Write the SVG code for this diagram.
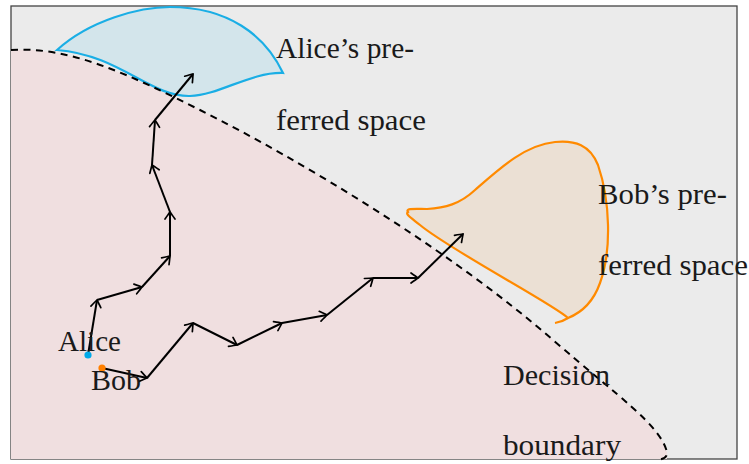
<svg xmlns="http://www.w3.org/2000/svg" width="749" height="464" viewBox="0 0 749 464">
<style>
.lbl{font-family:"Liberation Serif","DejaVu Serif",serif;font-size:29px;fill:#1a1a1a}
.arr{stroke:#000;stroke-width:2;fill:none;marker-end:url(#tip)}
</style>
<defs>
<marker id="tip" markerUnits="userSpaceOnUse" markerWidth="16" markerHeight="16" viewBox="-9 -8 11 16" refX="0" refY="0" orient="auto">
<path d="M-7,-5 Q-1.8,-1.4 0,0 Q-1.8,1.4 -7,5" fill="none" stroke="#000" stroke-width="1.7" stroke-linecap="round"/>
</marker>
</defs>
<rect x="11" y="6" width="726" height="453" fill="#ebebeb" stroke="#444" stroke-width="1.3"/>
<g id="decision-region">
<path d="M11,50 C70,46 130,75 200,110 C300,160 450,250 553,340 C620,398 660,425 667,452 L667,459 L11,459 Z" fill="#f0dfe0"/>
</g>
<g id="alice-space">
<path d="M57,50 C90,20 140,7 170,7 C228,7 265,35 283,73 C250,72 220,95 190,96 C150,97 120,55 57,50 Z" fill="#d3e5eb" stroke="#1aaee5" stroke-width="2.2"/>
</g>
<g id="bob-space">
<path d="M408,212 C405,208 415,209 427,209 C445,208 460,204 475,190 C500,168 525,145 555,142 C575,140 590,145 598,165 C610,200 612,250 600,283 C594,300 583,312 568,318 C555,305 450,250 420,225 C410,217 405,214 408,212 Z" fill="#ebe0d4" stroke="#ff8a00" stroke-width="2.2"/>
<path d="M568,318 Q562,322 555,323" fill="none" stroke="#ff8a00" stroke-width="2.2"/>
</g>
<g id="decision-boundary">
<path d="M11,50 C70,46 130,75 200,110 C300,160 450,250 553,340 C620,398 660,425 667,452 Q668,459 656,460" fill="none" stroke="#000" stroke-width="2" stroke-dasharray="7,5.5"/>
</g>
<g id="connectors">
<line class="arr" x1="88" y1="355" x2="97" y2="300"/>
<line class="arr" x1="97" y1="300" x2="142" y2="287"/>
<line class="arr" x1="142" y1="287" x2="170" y2="256"/>
<line class="arr" x1="170" y1="256" x2="170" y2="212"/>
<line class="arr" x1="170" y1="212" x2="152" y2="165"/>
<line class="arr" x1="152" y1="165" x2="155" y2="120"/>
<line class="arr" x1="155" y1="120" x2="193" y2="74"/>
<line class="arr" x1="102" y1="368" x2="147" y2="378"/>
<line class="arr" x1="147" y1="378" x2="193" y2="323"/>
<line class="arr" x1="193" y1="323" x2="237" y2="345"/>
<line class="arr" x1="237" y1="345" x2="282" y2="323"/>
<line class="arr" x1="282" y1="323" x2="327" y2="315"/>
<line class="arr" x1="327" y1="315" x2="373" y2="278"/>
<line class="arr" x1="373" y1="278" x2="418" y2="278"/>
<line class="arr" x1="418" y1="278" x2="463" y2="234"/>
</g>
<g id="alice-start">
<circle cx="88" cy="355" r="3.6" fill="#00a9e8"/>
<text class="lbl" x="58" y="351" textLength="63" lengthAdjust="spacingAndGlyphs">Alice</text>
</g>
<g id="bob-start">
<circle cx="102" cy="368" r="3.6" fill="#ff8000"/>
<text class="lbl" x="91" y="390" textLength="50" lengthAdjust="spacingAndGlyphs">Bob</text>
</g>
<g id="alice-label">
<text class="lbl" x="276" y="58" textLength="138" lengthAdjust="spacingAndGlyphs">Alice’s pre-</text>
<text class="lbl" x="276" y="130" textLength="150" lengthAdjust="spacingAndGlyphs">ferred space</text>
</g>
<g id="bob-label">
<text class="lbl" x="598" y="204" textLength="129" lengthAdjust="spacingAndGlyphs">Bob’s pre-</text>
<text class="lbl" x="598" y="275" textLength="150" lengthAdjust="spacingAndGlyphs">ferred space</text>
</g>
<g id="boundary-label">
<text class="lbl" x="503" y="385" textLength="107" lengthAdjust="spacingAndGlyphs">Decision</text>
<text class="lbl" x="503" y="455" textLength="118" lengthAdjust="spacingAndGlyphs">boundary</text>
</g>
</svg>
